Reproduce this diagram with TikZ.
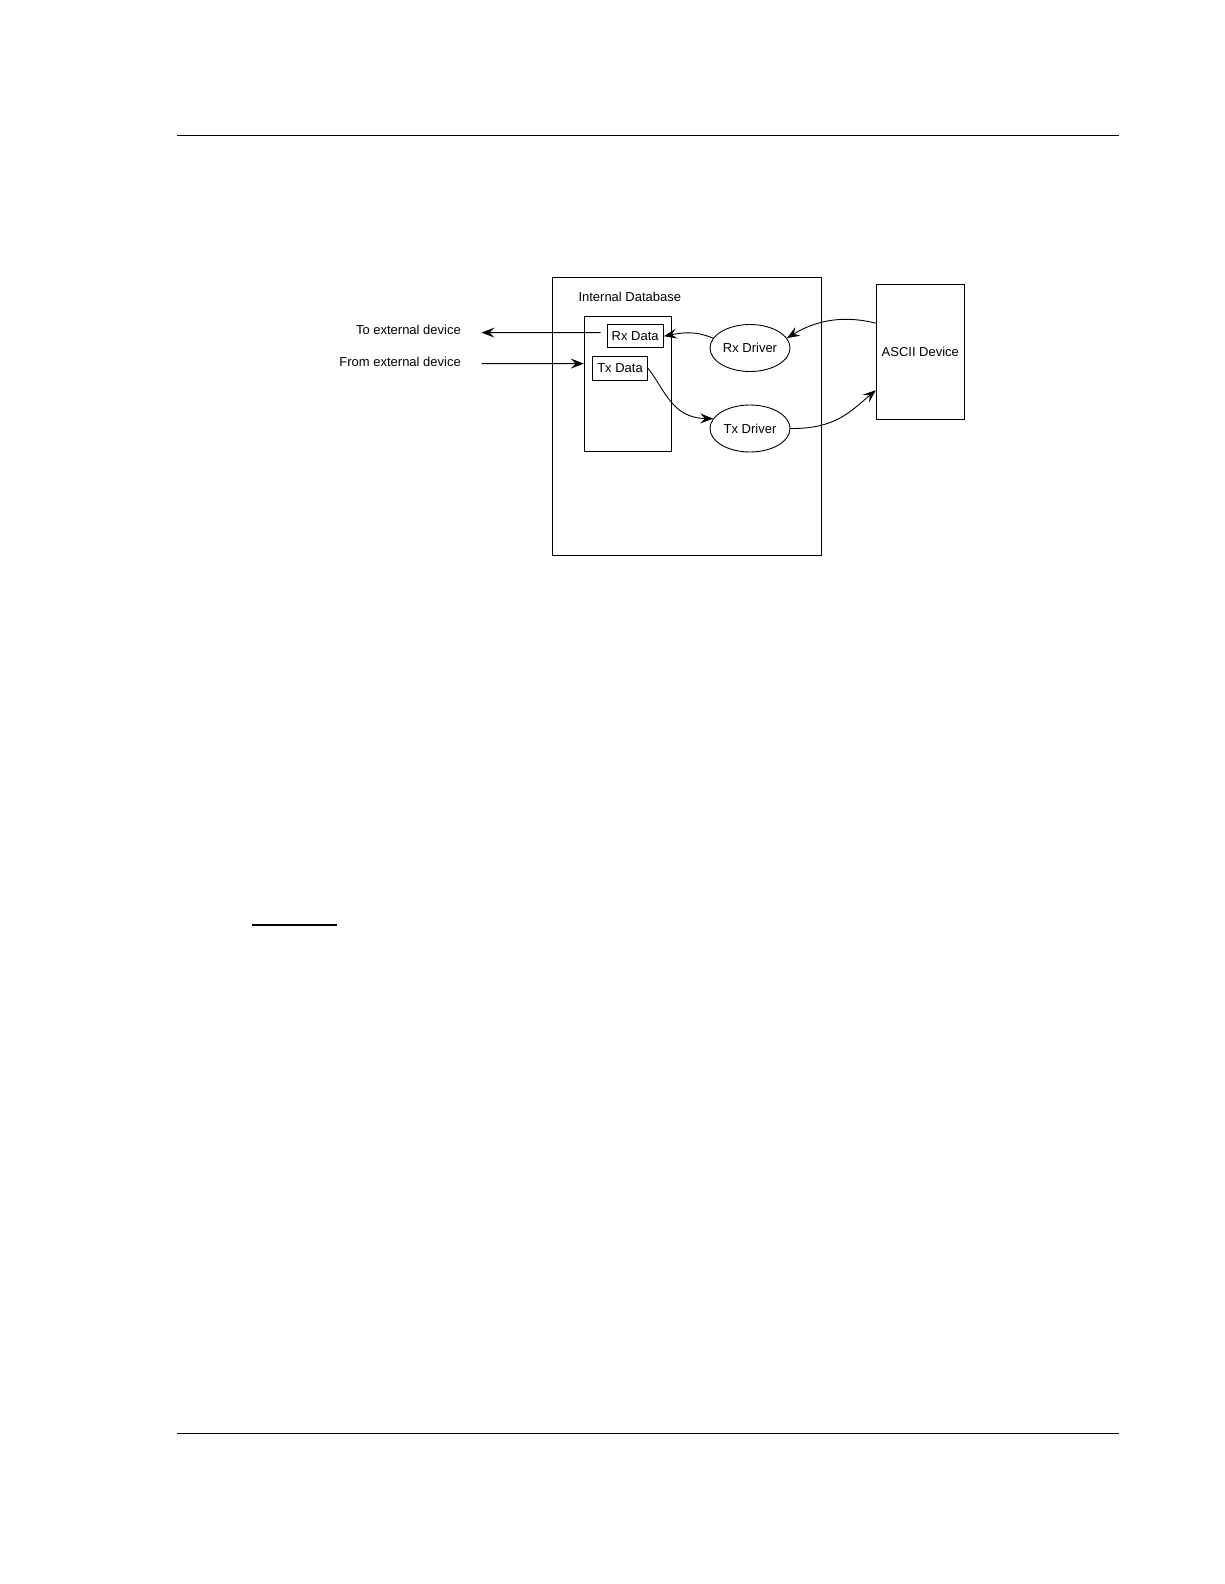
\documentclass[tikz,border=0pt]{standalone}
\usepackage{fontspec}
\setmainfont{Liberation Sans}
\usetikzlibrary{arrows.meta,shapes.geometric,calc}
\begin{document}
\begin{tikzpicture}[x=1pt,y=-1pt,
  every node/.style={font=\fontsize{13}{15}\selectfont,inner sep=0pt},
  box/.style={draw,line width=1pt},
  databox/.style={draw,line width=1pt,minimum height=23.5pt},
  driver/.style={draw,ellipse,line width=0.9pt,minimum width=80pt,minimum height=47pt},
  conn/.style={line width=0.9pt,-{Stealth[length=13pt,width=10pt,inset=5pt]}},
  rule/.style={line width=1.5pt}]
\useasboundingbox (0,0) rectangle (1224,1584);
% page rules
\coordinate (tl) at (177,135.3);
\coordinate (tr) at (1119,135.3);
\coordinate (bl) at (177,1433.3);
\coordinate (br) at (1119,1433.3);
\coordinate (sl) at (251.5,924.7);
\coordinate (sr) at (336.5,924.7);
\draw[rule] (tl) -- (tr);
\draw[rule] (bl) -- (br);
\draw[line width=2.4pt] (sl) -- (sr);
% boxes
\node[box,minimum width=269pt,minimum height=278pt] (outer) at (686.5,416) {};
\node[anchor=west] (idb) at (578.3,297.3) {Internal Database};
\node[box,minimum width=87pt,minimum height=135pt] (inner) at (627.8,383.7) {};
\node[databox,minimum width=56.3pt] (rxdata) at (635.2,336.2) {Rx Data};
\node[databox,minimum width=55.4pt] (txdata) at (620,368.5) {Tx Data};
\node[driver] (rxdrv) at (750,348) {Rx Driver};
\node[driver] (txdrv) at (750,428.5) {Tx Driver};
\node[box,minimum width=88pt,minimum height=135pt] (ascii) at (920.3,351.7) {};
\node (asciitxt) at (920.3,352.3) {ASCII Device};
% external labels
\node[anchor=east] (tolbl) at (461,330) {To external device};
\node[anchor=east] (fromlbl) at (461,361.7) {From external device};
\coordinate (toext) at (481.5,332.6);
\coordinate (fromext) at (481.5,363.6);
% connectors
\draw[conn] ([xshift=-6pt,yshift=3.6pt]rxdata.west) -- (toext);
\draw[conn] (fromext) -- ([yshift=20.1pt]inner.west);
\draw[conn] (rxdrv.165) .. controls (700,333) and (690,331) .. (rxdata.east);
\draw[conn] ([yshift=28.5pt]ascii.west) .. controls (855,318) and (825,315) .. (rxdrv.15);
\draw[conn] (txdata.east) .. controls (665,390) and (672,418) .. (txdrv.165);
\draw[conn] (txdrv.east) .. controls (835,429) and (850,412) .. ([yshift=-38.5pt]ascii.west);
\end{tikzpicture}
\end{document}
